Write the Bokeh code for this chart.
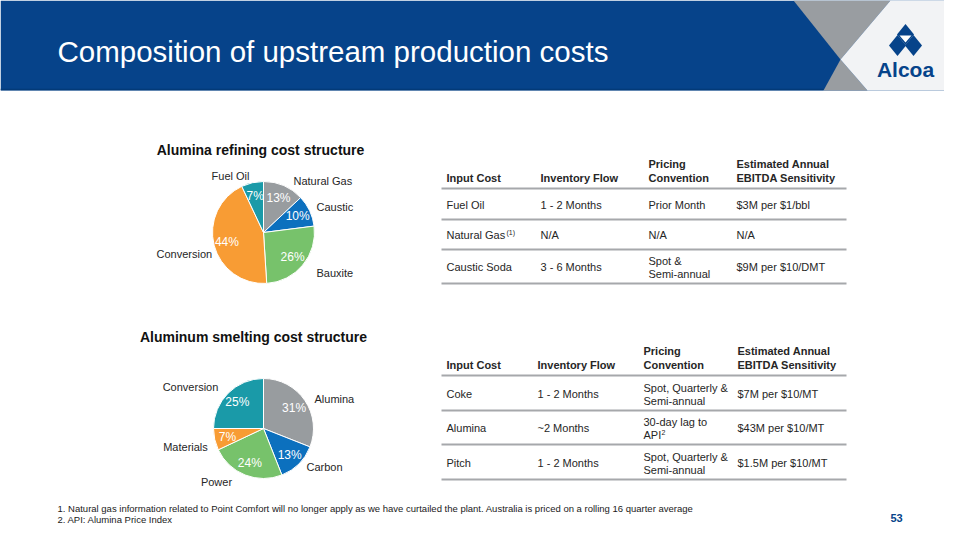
import math
from bokeh.plotting import figure
from bokeh.models import Range1d
from bokeh.core.properties import value
from bokeh.embed import file_html
from bokeh.resources import INLINE

# ---------------- data ----------------
title = "Composition of upstream production costs"

refining_title = "Alumina refining cost structure"
refining_labels = ["Natural Gas", "Caustic", "Bauxite", "Conversion", "Fuel Oil"]
refining_values = [13, 10, 26, 44, 7]

smelting_title = "Aluminum smelting cost structure"
smelting_labels = ["Alumina", "Carbon", "Power", "Materials", "Conversion"]
smelting_values = [31, 13, 24, 7, 25]

table_header_1 = ["", "", "Pricing", "Estimated Annual"]
table_header_2 = ["Input Cost", "Inventory Flow", "Convention", "EBITDA Sensitivity"]

refining_rows = [
    ["Fuel Oil", "1 - 2 Months", ["Prior Month"], "$3M per $1/bbl"],
    ["Natural Gas", "N/A", ["N/A"], "N/A"],
    ["Caustic Soda", "3 - 6 Months", ["Spot &", "Semi-annual"], "$9M per $10/DMT"],
]
smelting_rows = [
    ["Coke", "1 - 2 Months", ["Spot, Quarterly &", "Semi-annual"], "$7M per $10/MT"],
    ["Alumina", "~2 Months", ["30-day lag to", "API"], "$43M per $10/MT"],
    ["Pitch", "1 - 2 Months", ["Spot, Quarterly &", "Semi-annual"], "$1.5M per $10/MT"],
]

footnotes = [
    "1.  Natural gas information related to Point Comfort will no longer apply as we have curtailed the plant. Australia is priced on a rolling 16 quarter average",
    "2.  API:  Alumina Price Index",
]
page_number = "53"

# ---------------- styles ----------------
BLUE = "#06438A"
GRAY_HDR = "#999DA1"
LIGHT = "#F2F3F5"
TXT = "#262626"
FONT = "Liberation Sans"
slice_colors = {
    "gray": "#989C9F", "blue": "#0C70BE", "green": "#77C26B",
    "orange": "#F89C34", "teal": "#1A9AA8",
}
refining_colors = [slice_colors[c] for c in ["gray", "blue", "green", "orange", "teal"]]
smelting_colors = [slice_colors[c] for c in ["gray", "blue", "green", "orange", "teal"]]


def Y(y):
    return 540 - y


p = figure(width=944, height=524, x_range=Range1d(0, 944), y_range=Range1d(16, 540),
           output_backend="svg", toolbar_location=None, min_border=0)
p.axis.visible = False
p.grid.visible = False
p.outline_line_color = None
p.background_fill_color = "white"
p.border_fill_color = "white"


def txt(x, y, s, size="11px", color=TXT, align="left", bold=False, baseline="middle", font=FONT):
    p.text(x=[x], y=[Y(y)], text=[s], text_font=value(font), text_font_size=size,
           text_color=color, text_align=align, text_baseline=baseline,
           text_font_style="bold" if bold else "normal")


# ---------------- header ----------------
p.patch([0, 960, 960, 0], [Y(0), Y(0), Y(90), Y(90)], fill_color=BLUE, line_color=None)
p.line([0, 823], [Y(89), Y(89)], line_color="#033A78", line_width=1.5)
p.patch([793, 890, 840], [Y(0), Y(0), Y(59)], fill_color=GRAY_HDR, line_color=None)
p.patch([840, 867, 823], [Y(59), Y(90), Y(90)], fill_color=GRAY_HDR, line_color=None)
p.patch([890, 960, 960, 867, 840], [Y(0), Y(0), Y(90), Y(90), Y(59)], fill_color=LIGHT, line_color=None)
txt(57, 51, title, size="29.5px", color="white")

# logo
def diamond(cx, cy, hw, hh):
    return [cx, cx + hw, cx, cx - hw], [Y(cy - hh), Y(cy), Y(cy + hh), Y(cy)]

for cx, cy in [(905, 34), (897, 45), (913, 45)]:
    xs, ys = diamond(cx, cy, 8.5, 10.5)
    p.patch(xs, ys, fill_color=BLUE, line_color=None)
p.patch([899, 911, 905], [Y(35), Y(35), Y(42)], fill_color="white", line_color=None)
txt(905, 69, "Alcoa", size="21px", color=BLUE, align="center", bold=True)

# ---------------- pies ----------------
def pie(cx, cy, r, vals, colors):
    total = float(sum(vals))
    cum = 0.0
    starts, ends, mids = [], [], []
    for v in vals:
        a0 = math.pi / 2 - 2 * math.pi * (cum + v) / total
        a1 = math.pi / 2 - 2 * math.pi * cum / total
        starts.append(a0)
        ends.append(a1)
        mids.append((a0 + a1) / 2)
        cum += v
    p.wedge(x=[cx] * len(vals), y=[Y(cy)] * len(vals), radius=r,
            start_angle=starts, end_angle=ends, direction="anticlock",
            fill_color=colors, line_color="white", line_width=1)
    lx = [cx + 0.74 * r * math.cos(a) for a in mids]
    ly = [Y(cy) + 0.74 * r * math.sin(a) for a in mids]
    p.text(x=lx, y=ly, text=[f"{v}%" for v in vals], text_font=value(FONT),
           text_font_size="12px", text_color="white", text_align="center",
           text_baseline="middle")


txt(260, 149, refining_title, size="14px", color="#111111", align="center", bold=True)
pie(263, 232, 51, refining_values, refining_colors)
ref_label_pos = [(293, 180, "left"), (316, 206, "left"), (316, 272, "left"),
                 (156, 253, "left"), (230, 175, "center")]
for (x, y, a), lab in zip(ref_label_pos, refining_labels):
    txt(x, y, lab, size="11px", color=TXT, align=a)

txt(253, 336, smelting_title, size="14px", color="#111111", align="center", bold=True)
pie(263, 428, 50, smelting_values, smelting_colors)
sm_label_pos = [(314, 398, "left"), (306, 466, "left"), (216, 481, "center"),
                (185, 446, "center"), (190, 386, "center")]
for (x, y, a), lab in zip(sm_label_pos, smelting_labels):
    txt(x, y, lab, size="11px", color=TXT, align=a)

# ---------------- tables ----------------
def table(top, colx, rows, line_ys):
    for i, x in enumerate(colx):
        if table_header_1[i]:
            txt(x, top, table_header_1[i], bold=True)
        txt(x, top + 14, table_header_2[i], bold=True)
    for ly in line_ys:
        p.line([441, 846], [Y(ly), Y(ly)], line_color="#A6A8AB", line_width=2)
    for r, row in enumerate(rows):
        cy = (line_ys[r] + line_ys[r + 1]) / 2 + 0.5
        txt(colx[0], cy, row[0])
        txt(colx[1], cy, row[1])
        pc = row[2]
        if len(pc) == 1:
            txt(colx[2], cy, pc[0])
        else:
            txt(colx[2], cy - 6, pc[0])
            txt(colx[2], cy + 7, pc[1])
        txt(colx[3], cy, row[3])


table(163, [446, 540, 648, 736], refining_rows, [188, 219, 249, 283])
txt(506, 232, "(1)", size="7px")
table(350, [446, 537, 643, 737], smelting_rows, [375, 410, 444, 479])
txt(661, 432, "2", size="7px")

# ---------------- footnotes ----------------
txt(57, 508, footnotes[0], size="9.5px", color="#1A1A1A")
txt(57, 519, footnotes[1], size="9.5px", color="#1A1A1A")
txt(896, 517, page_number, size="11px", color=BLUE, align="center", bold=True)

open("out.html", "w").write(file_html(p, INLINE))
